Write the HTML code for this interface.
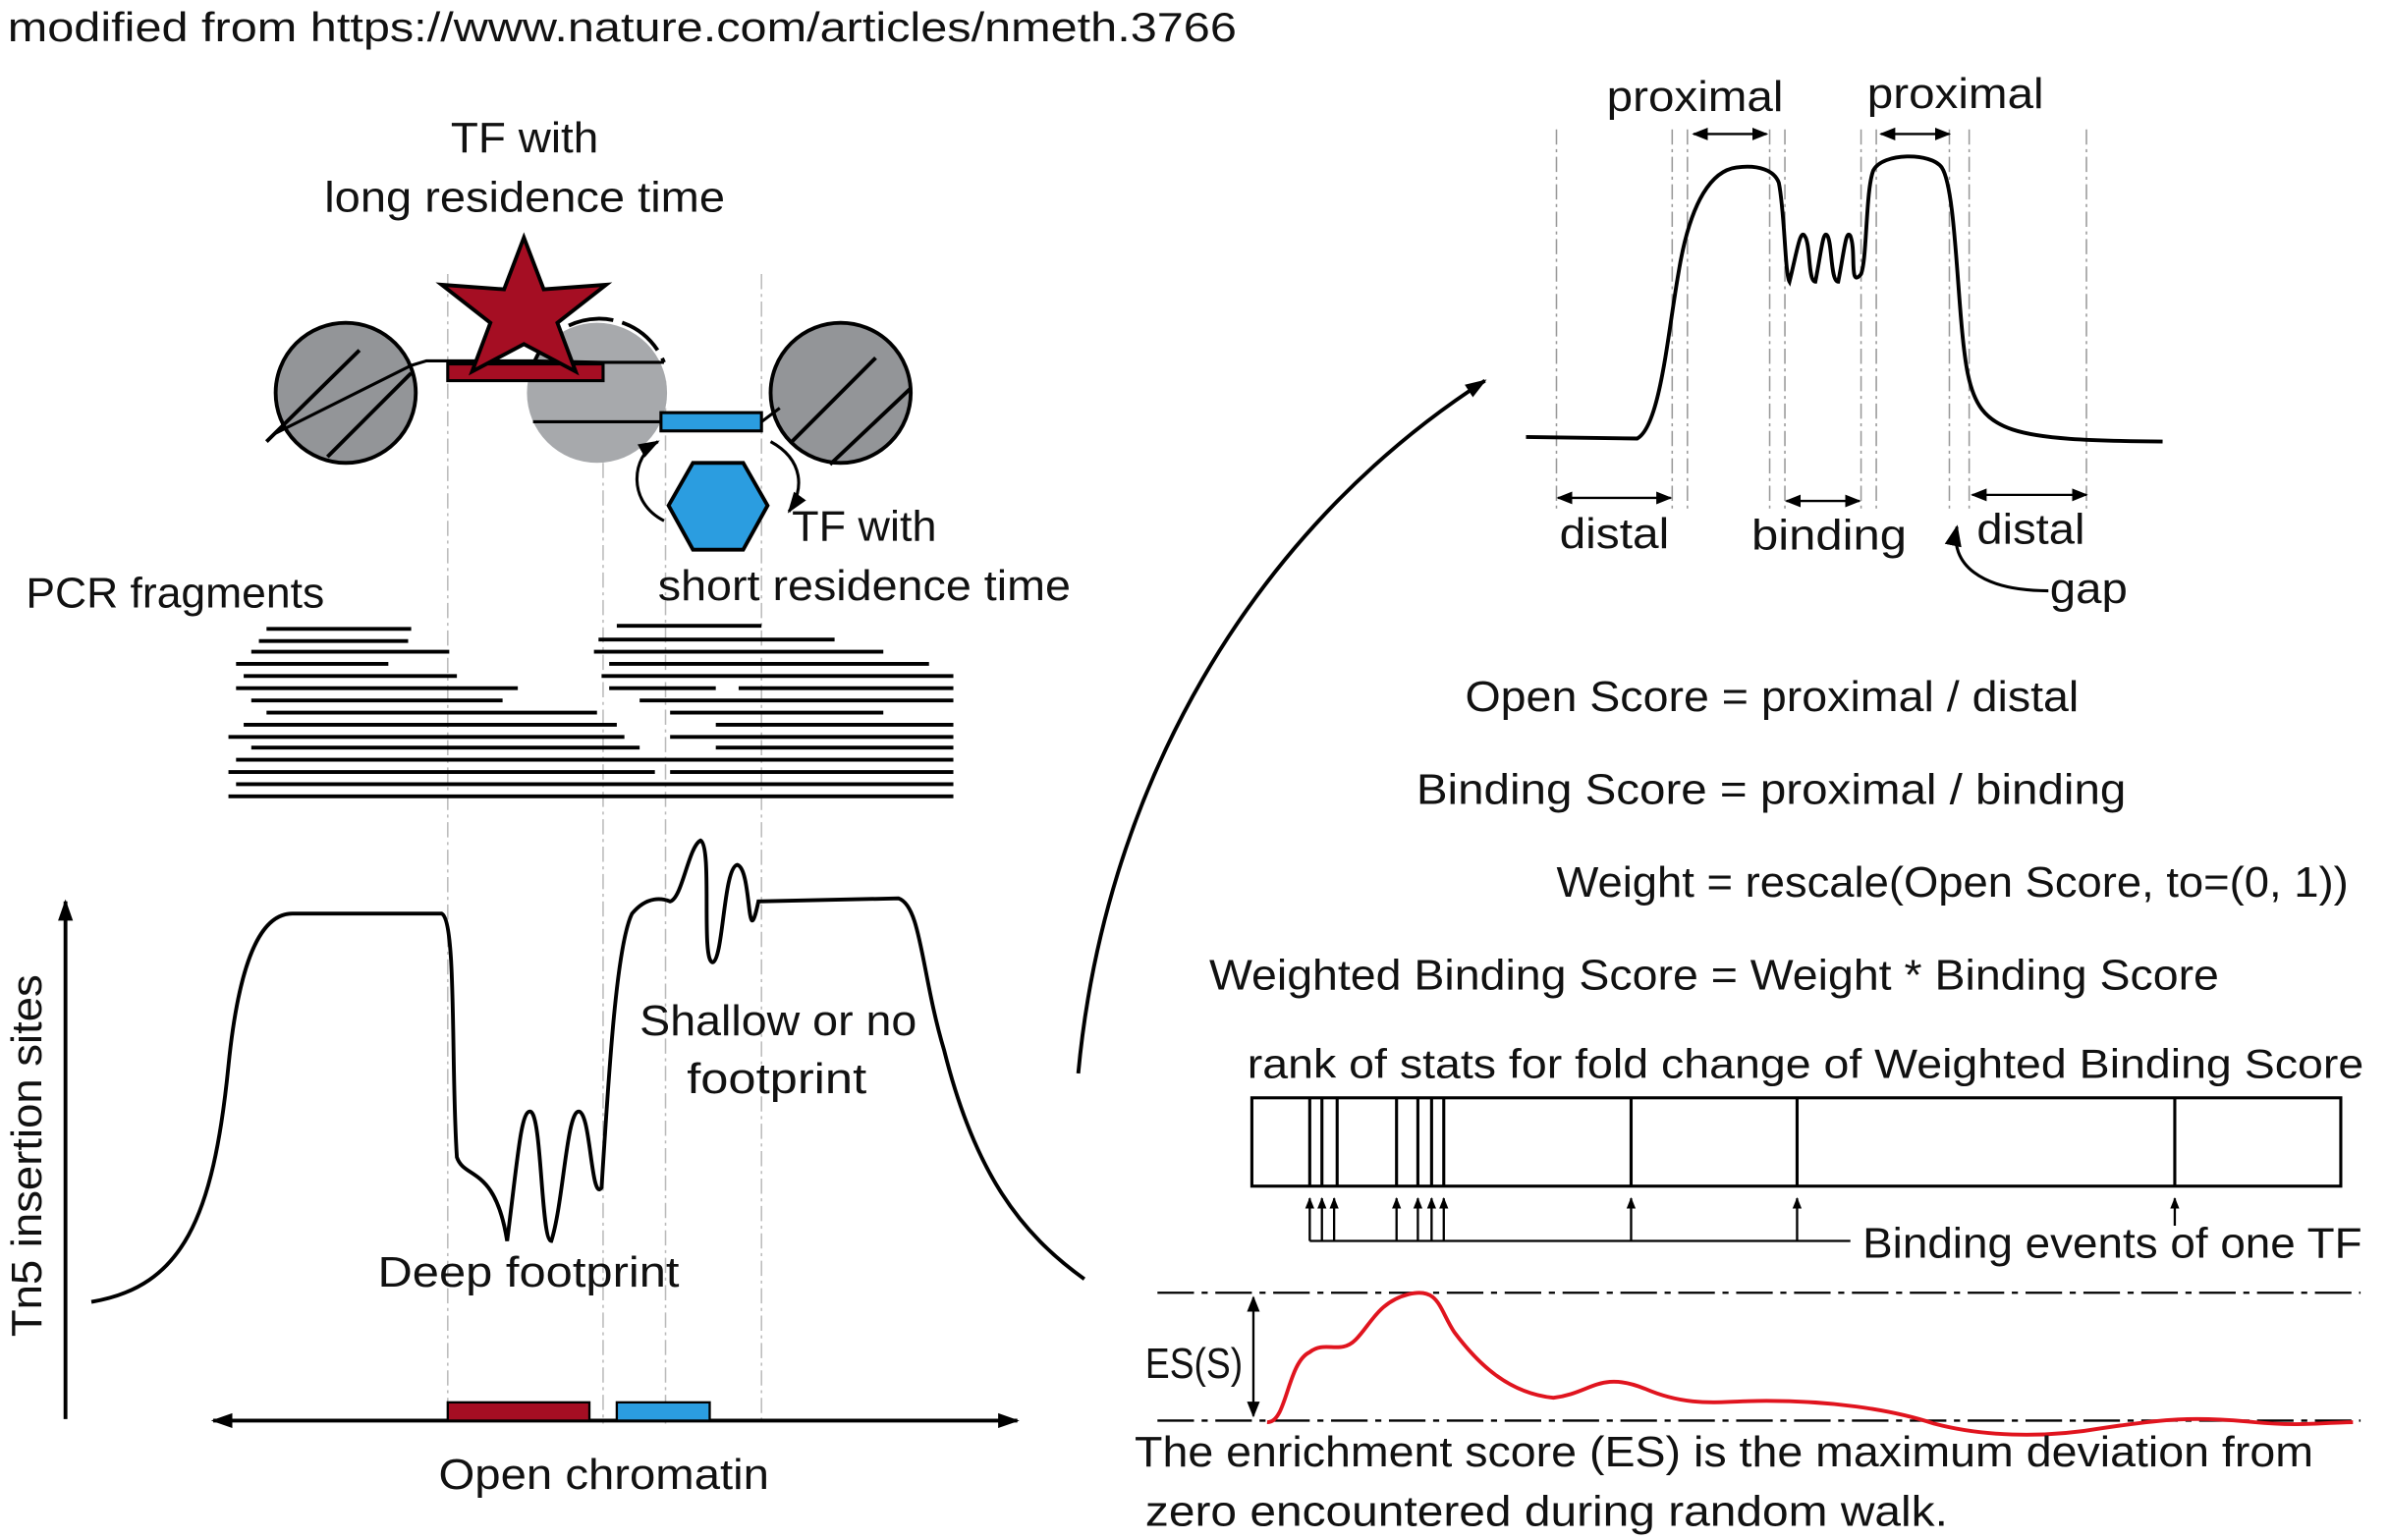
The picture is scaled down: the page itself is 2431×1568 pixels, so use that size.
<!DOCTYPE html>
<html><head><meta charset="utf-8"><style>
html,body{margin:0;padding:0;background:#fff;}
svg{display:block;}
text{font-family:"Liberation Sans",sans-serif;fill:#111;}
</style></head><body>
<svg width="2431" height="1568" viewBox="0 0 1568 1011.4" preserveAspectRatio="none" xmlns="http://www.w3.org/2000/svg">
<defs>
<marker id="ah" viewBox="0 0 10 10" refX="9" refY="5" markerWidth="7" markerHeight="7" orient="auto-start-reverse"><path d="M0,1 L10,5 L0,9 z" fill="#000"/></marker>
<marker id="ahs" viewBox="0 0 10 10" refX="9" refY="5" markerWidth="5" markerHeight="5" orient="auto-start-reverse"><path d="M0,1 L10,5 L0,9 z" fill="#000"/></marker>
<marker id="ahb" viewBox="0 0 10 10" refX="9" refY="5" markerWidth="14" markerHeight="14" orient="auto-start-reverse" markerUnits="userSpaceOnUse"><path d="M0,1.5 L10,5 L0,8.5 z" fill="#000"/></marker>
</defs>
<g lengthAdjust="spacingAndGlyphs">
<text x="5" y="27" font-size="27" textLength="807" lengthAdjust="spacingAndGlyphs">modified from https://www.nature.com/articles/nmeth.3766</text>
</g>

<g stroke="#bbb" stroke-width="1" stroke-dasharray="10,3,2,3">
<line x1="294" y1="180" x2="294" y2="935"/><line x1="396" y1="250" x2="396" y2="935"/>
<line x1="437" y1="250" x2="437" y2="935"/><line x1="500" y1="180" x2="500" y2="935"/>
</g>

<text x="296" y="100" font-size="28" textLength="97" lengthAdjust="spacingAndGlyphs">TF with</text>
<text x="213" y="139" font-size="28" textLength="263" lengthAdjust="spacingAndGlyphs">long residence time</text>

<circle cx="392" cy="258" r="46" fill="#a7a9ac"/>
<path d="M350,240 A46,46 0 0 1 436,238" fill="none" stroke="#000" stroke-width="2.5" stroke-dasharray="30,6"/>
<circle cx="227" cy="258" r="46" fill="#939598" stroke="#000" stroke-width="2.5"/>
<circle cx="552" cy="258" r="46" fill="#939598" stroke="#000" stroke-width="2.5"/>
<g stroke="#000" stroke-width="2.5">
<line x1="175" y1="290" x2="236" y2="230"/><line x1="215" y1="300" x2="270" y2="245"/>
<line x1="520" y1="290" x2="575" y2="235"/><line x1="545" y1="305" x2="598" y2="255"/>
</g>
<polyline points="180,285 270,240 280,237 350,237 396,238 436,238" fill="none" stroke="#000" stroke-width="2"/>
<polyline points="350,277 434,277 500,277 512,268" fill="none" stroke="#000" stroke-width="2"/>
<rect x="294" y="239" width="102" height="11" fill="#a50e23" stroke="#000" stroke-width="2"/>
<polygon points="344,156 357,190 398,187 366,212 378,244 344,226 310,244 322,212 290,187 331,190" fill="#a50e23" stroke="#000" stroke-width="2.5"/>
<rect x="434" y="271" width="66" height="12" fill="#2b9de0" stroke="#000" stroke-width="2"/>
<polygon points="455,304 488,304 504,332 488,361 455,361 439,332" fill="#2b9de0" stroke="#000" stroke-width="2.5"/>
<path d="M436,342 C412,330 414,300 432,290" fill="none" stroke="#000" stroke-width="2" marker-end="url(#ahb)"/>
<path d="M506,290 C528,302 528,322 518,336" fill="none" stroke="#000" stroke-width="2" marker-end="url(#ahb)"/>
<text x="520" y="355" font-size="28" textLength="95" lengthAdjust="spacingAndGlyphs">TF with</text>
<text x="432" y="394" font-size="28" textLength="271" lengthAdjust="spacingAndGlyphs">short residence time</text>
<text x="17" y="399" font-size="28" textLength="196" lengthAdjust="spacingAndGlyphs">PCR fragments</text>

<g stroke="#000" stroke-width="2.5">
<line x1="175" y1="413" x2="270" y2="413"/><line x1="405" y1="411" x2="500" y2="411"/>
<line x1="170" y1="421" x2="268" y2="421"/><line x1="393" y1="420" x2="548" y2="420"/>
<line x1="165" y1="428" x2="295" y2="428"/><line x1="390" y1="428" x2="580" y2="428"/>
<line x1="155" y1="436" x2="255" y2="436"/><line x1="400" y1="436" x2="610" y2="436"/>
<line x1="160" y1="444" x2="300" y2="444"/><line x1="395" y1="444" x2="626" y2="444"/>
<line x1="155" y1="452" x2="340" y2="452"/><line x1="400" y1="452" x2="470" y2="452"/><line x1="485" y1="452" x2="626" y2="452"/>
<line x1="165" y1="460" x2="330" y2="460"/><line x1="420" y1="460" x2="626" y2="460"/>
<line x1="175" y1="468" x2="392" y2="468"/><line x1="440" y1="468" x2="580" y2="468"/>
<line x1="160" y1="476" x2="405" y2="476"/><line x1="470" y1="476" x2="626" y2="476"/>
<line x1="150" y1="484" x2="410" y2="484"/><line x1="440" y1="484" x2="626" y2="484"/>
<line x1="165" y1="491" x2="420" y2="491"/><line x1="470" y1="491" x2="626" y2="491"/>
<line x1="155" y1="499" x2="626" y2="499"/>
<line x1="150" y1="507" x2="430" y2="507"/><line x1="440" y1="507" x2="626" y2="507"/>
<line x1="155" y1="515" x2="626" y2="515"/>
<line x1="150" y1="523" x2="626" y2="523"/>
</g>

<line x1="43" y1="932" x2="43" y2="592" stroke="#000" stroke-width="2.5" marker-end="url(#ahb)"/>
<text x="0" y="0" font-size="28" text-anchor="middle" textLength="238" lengthAdjust="spacingAndGlyphs" transform="translate(27,759) rotate(-90)">Tn5 insertion sites</text>

<path d="M60,855 C120,845 140,800 150,700 C158,620 175,600 192,600 L290,600 C300,605 296,700 300,760 C305,775 325,765 333,815 C340,760 342,730 348,730 C356,730 355,815 362,815 C370,790 372,730 380,730 C388,730 388,790 395,780 C400,700 405,620 415,600 C425,588 435,590 440,592 C448,590 452,556 460,552 C468,556 460,632 468,632 C475,630 475,570 484,568 C494,570 490,630 498,592 L590,590 C605,595 605,640 620,690 C640,770 670,810 712,840" fill="none" stroke="#000" stroke-width="2.5"/>
<text x="248" y="845" font-size="28" textLength="198" lengthAdjust="spacingAndGlyphs">Deep footprint</text>
<text x="420" y="680" font-size="28" textLength="182" lengthAdjust="spacingAndGlyphs">Shallow or no</text>
<text x="451" y="718" font-size="28" textLength="118" lengthAdjust="spacingAndGlyphs">footprint</text>

<line x1="140" y1="933" x2="668" y2="933" stroke="#000" stroke-width="2.5" marker-start="url(#ahb)" marker-end="url(#ahb)"/>
<rect x="294" y="921" width="93" height="12" fill="#a50e23" stroke="#000" stroke-width="1.5"/>
<rect x="405" y="921" width="61" height="12" fill="#2b9de0" stroke="#000" stroke-width="1.5"/>
<text x="288" y="978" font-size="28" textLength="217" lengthAdjust="spacingAndGlyphs">Open chromatin</text>

<path d="M708,705 C725,520 820,350 975,250" fill="none" stroke="#000" stroke-width="2.5" marker-end="url(#ahb)"/>

<g stroke="#999" stroke-width="1" stroke-dasharray="10,3,2,3">
<line x1="1022" y1="85" x2="1022" y2="335"/><line x1="1098" y1="85" x2="1098" y2="335"/>
<line x1="1108" y1="85" x2="1108" y2="335"/><line x1="1162" y1="85" x2="1162" y2="335"/>
<line x1="1172" y1="85" x2="1172" y2="335"/><line x1="1222" y1="85" x2="1222" y2="335"/>
<line x1="1232" y1="85" x2="1232" y2="335"/><line x1="1280" y1="85" x2="1280" y2="335"/>
<line x1="1293" y1="85" x2="1293" y2="335"/><line x1="1370" y1="85" x2="1370" y2="335"/>
</g>
<path d="M1002,287 L1075,288 C1090,280 1095,220 1102,180 C1110,130 1125,112 1140,110 C1155,108 1165,112 1168,120 C1172,140 1172,180 1175,185 C1180,165 1182,150 1185,155 C1189,160 1187,185 1192,185 C1196,165 1197,150 1200,155 C1203,160 1202,185 1207,185 C1211,165 1212,150 1215,155 C1219,165 1214,190 1222,180 C1226,170 1225,125 1230,112 C1236,100 1268,100 1275,110 C1285,125 1285,210 1292,245 C1300,285 1320,289 1420,290" fill="none" stroke="#000" stroke-width="2.5"/>
<g stroke="#000" stroke-width="1.5">
<line x1="1112" y1="88" x2="1160" y2="88" marker-start="url(#ah)" marker-end="url(#ah)"/>
<line x1="1235" y1="88" x2="1280" y2="88" marker-start="url(#ah)" marker-end="url(#ah)"/>
<line x1="1023" y1="327" x2="1097" y2="327" marker-start="url(#ah)" marker-end="url(#ah)"/>
<line x1="1173" y1="329" x2="1221" y2="329" marker-start="url(#ah)" marker-end="url(#ah)"/>
<line x1="1295" y1="325" x2="1370" y2="325" marker-start="url(#ah)" marker-end="url(#ah)"/>
</g>
<path d="M1345,388 C1300,388 1280,370 1285,346" fill="none" stroke="#000" stroke-width="2" marker-end="url(#ah)"/>
<g font-size="28">
<text x="1055" y="73" textLength="116" lengthAdjust="spacingAndGlyphs">proximal</text>
<text x="1226" y="71" textLength="116" lengthAdjust="spacingAndGlyphs">proximal</text>
<text x="1024" y="360" textLength="72" lengthAdjust="spacingAndGlyphs">distal</text>
<text x="1150" y="361" textLength="102" lengthAdjust="spacingAndGlyphs">binding</text>
<text x="1298" y="357" textLength="71" lengthAdjust="spacingAndGlyphs">distal</text>
<text x="1346" y="396" textLength="51" lengthAdjust="spacingAndGlyphs">gap</text>
<text x="962" y="467" textLength="403" lengthAdjust="spacingAndGlyphs">Open Score = proximal / distal</text>
<text x="930" y="528" textLength="466" lengthAdjust="spacingAndGlyphs">Binding Score = proximal / binding</text>
<text x="1022" y="589" textLength="520" lengthAdjust="spacingAndGlyphs">Weight = rescale(Open Score, to=(0, 1))</text>
<text x="794" y="650" textLength="663" lengthAdjust="spacingAndGlyphs">Weighted Binding Score = Weight * Binding Score</text>
<text x="819" y="708" font-size="27" textLength="733" lengthAdjust="spacingAndGlyphs">rank of stats for fold change of Weighted Binding Score</text>
</g>

<rect x="822" y="721" width="715" height="58" fill="none" stroke="#000" stroke-width="2"/>
<g stroke="#000" stroke-width="2">
<line x1="860" y1="721" x2="860" y2="779"/><line x1="868" y1="721" x2="868" y2="779"/><line x1="878" y1="721" x2="878" y2="779"/>
<line x1="917" y1="721" x2="917" y2="779"/><line x1="931" y1="721" x2="931" y2="779"/><line x1="940" y1="721" x2="940" y2="779"/><line x1="948" y1="721" x2="948" y2="779"/>
<line x1="1071" y1="721" x2="1071" y2="779"/><line x1="1180" y1="721" x2="1180" y2="779"/><line x1="1428" y1="721" x2="1428" y2="779"/>
</g>
<g stroke="#000" stroke-width="1.5" marker-end="url(#ahs)">
<line x1="860" y1="815" x2="860" y2="787"/><line x1="868" y1="815" x2="868" y2="787"/><line x1="876" y1="815" x2="876" y2="787"/>
<line x1="917" y1="815" x2="917" y2="787"/><line x1="931" y1="815" x2="931" y2="787"/><line x1="940" y1="815" x2="940" y2="787"/><line x1="948" y1="815" x2="948" y2="787"/>
<line x1="1071" y1="815" x2="1071" y2="787"/><line x1="1180" y1="815" x2="1180" y2="787"/><line x1="1428" y1="805" x2="1428" y2="787"/>
</g>
<line x1="860" y1="815" x2="1215" y2="815" stroke="#000" stroke-width="1.5"/>
<text x="1223" y="826" font-size="28" textLength="328" lengthAdjust="spacingAndGlyphs">Binding events of one TF</text>

<g stroke="#000" stroke-width="1.5" stroke-dasharray="24,5,4,5">
<line x1="760" y1="849" x2="1550" y2="849"/><line x1="760" y1="933" x2="1550" y2="933"/>
</g>
<line x1="823" y1="852" x2="823" y2="930" stroke="#000" stroke-width="1.5" marker-start="url(#ah)" marker-end="url(#ah)"/>
<text x="752" y="905" font-size="28" textLength="64" lengthAdjust="spacingAndGlyphs">ES(S)</text>
<path d="M832,934 C845,935 845,895 860,888 C870,880 880,890 890,880 C900,870 905,855 925,850 C945,845 945,860 955,875 C970,895 990,915 1020,918 C1045,915 1050,900 1080,912 C1110,925 1130,920 1160,920 C1200,920 1240,925 1270,935 C1300,943 1340,945 1380,938 C1420,932 1440,930 1480,934 C1510,937 1530,934 1545,934" fill="none" stroke="#e0141e" stroke-width="2.5"/>
<text x="745" y="963" font-size="28" textLength="774" lengthAdjust="spacingAndGlyphs">The enrichment score (ES) is the maximum deviation from</text>
<text x="752" y="1002" font-size="28" textLength="527" lengthAdjust="spacingAndGlyphs">zero encountered during random walk.</text>
</svg>
</body></html>
